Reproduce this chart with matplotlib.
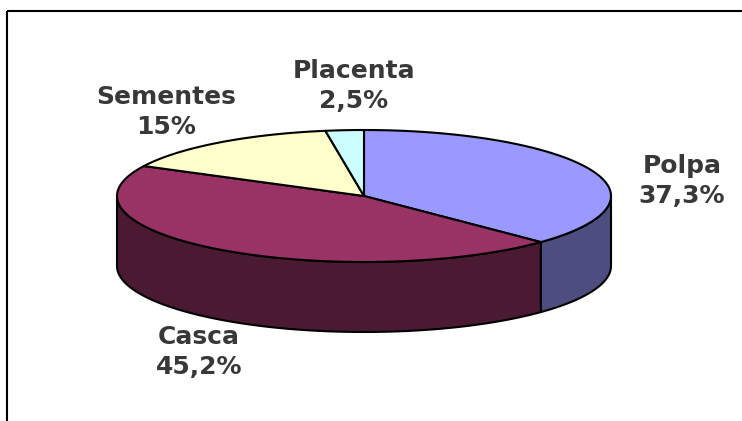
import numpy as np
import matplotlib.pyplot as plt
from matplotlib.patches import Polygon, Rectangle

# slices, clockwise from 12 o'clock
labels = ["Polpa", "Casca", "Sementes", "Placenta"]
values = [37.3, 45.2, 15.0, 2.5]
value_text = ["37,3%", "45,2%", "15%", "2,5%"]
top_colors = ["#9999FF", "#993366", "#FFFFCC", "#CCFFFF"]
side_colors = ["#4D4D80", "#4A1A33", "#80806A", "#6A8080"]

# label centres (pixels)
label_xy = [(682, 181), (199, 352), (166, 112), (354, 86)]

W, H = 742, 421
cx, cy, rx, ry, depth = 364, 196, 247, 66, 70

fig = plt.figure(figsize=(W / 100, H / 100), dpi=100)
ax = fig.add_axes([0, 0, 1, 1])
ax.set_xlim(0, W)
ax.set_ylim(H, 0)
ax.axis("off")

# outer frame (cut by the image edge)
ax.add_patch(Rectangle((7, 11), W + 20, H + 20, fill=False, edgecolor="black", lw=1.5))


def pt(t, dy=0):
    return cx + rx * np.cos(t), cy - ry * np.sin(t) + dy


# angles
fracs = np.array(values) / sum(values)
starts = np.pi / 2 - 2 * np.pi * np.concatenate([[0], np.cumsum(fracs)[:-1]])
ends = starts - 2 * np.pi * fracs

# side walls: only the front half is visible
for s, e, col in zip(starts, ends, side_colors):
    for k in range(-2, 2):
        lo = max(e, -np.pi + 2 * np.pi * k)
        hi = min(s, 2 * np.pi * k)
        if hi > lo:
            t = np.linspace(lo, hi, 80)
            xs, ys = pt(t)
            xb, yb = pt(t[::-1], depth)
            poly = np.column_stack([np.concatenate([xs, xb]), np.concatenate([ys, yb])])
            ax.add_patch(Polygon(poly, closed=True, facecolor=col, edgecolor="black", lw=1.5, joinstyle="round"))

# top faces
for s, e, col in zip(starts, ends, top_colors):
    t = np.linspace(s, e, 120)
    xs, ys = pt(t)
    poly = np.column_stack([np.concatenate([[cx], xs]), np.concatenate([[cy], ys])])
    ax.add_patch(Polygon(poly, closed=True, facecolor=col, edgecolor="black", lw=1.5, joinstyle="round"))

for name, vt, (lx, ly) in zip(labels, value_text, label_xy):
    ax.text(lx, ly, name + "\n" + vt, ha="center", va="center", fontsize=18,
            fontweight="bold", color="#383838", family="DejaVu Sans", linespacing=1.3)

fig.savefig("out.png", dpi=100)
